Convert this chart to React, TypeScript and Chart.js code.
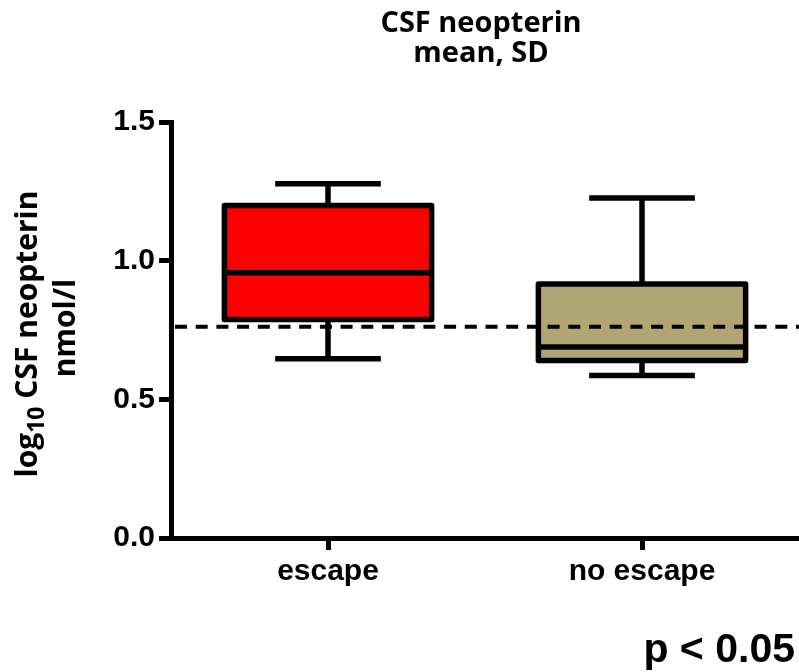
import React, { useEffect, useRef } from "react";
import { Chart, registerables } from "chart.js";

Chart.register(...registerables);

// ---- data ----
const categories = ["escape", "no escape"];
const whiskerHigh = [1.277, 1.226];
const q3 = [1.199, 0.916];
const median = [0.956, 0.689];
const q1 = [0.788, 0.64];
const whiskerLow = [0.646, 0.586];
const referenceLine = 0.762;
const yTicks = [0, 0.5, 1.0, 1.5];
const boxColors = ["#ff0000", "#b2a574"];
const titleLines = ["CSF neopterin", "mean, SD"];
const yTitleMain = "log";
const yTitleSub = "10";
const yTitleRest = " CSF neopterin";
const yTitleLine2 = "nmol/l";
const pValueText = "p < 0.05";

const ARIAL = "'Liberation Sans', Arial, sans-serif";
const CALIBRI = "'Open Sans', 'Noto Sans', sans-serif";

const boxPlotPlugin = {
  id: "boxPlotPlugin",
  afterDatasetsDraw(chart: any) {
    const ctx = chart.ctx;
    const y = chart.scales.y;
    const meta = chart.getDatasetMeta(0);
    const area = chart.chartArea;
    ctx.save();
    ctx.strokeStyle = "#000";
    ctx.lineWidth = 5.5;
    ctx.lineCap = "butt";
    meta.data.forEach((bar: any, i: number) => {
      const { x, width } = bar.getProps(["x", "width"], true);
      const half = width / 2;
      const capHalf = half * 0.51;
      const yHi = y.getPixelForValue(whiskerHigh[i]);
      const yQ3 = y.getPixelForValue(q3[i]);
      const yMed = y.getPixelForValue(median[i]);
      const yQ1 = y.getPixelForValue(q1[i]);
      const yLo = y.getPixelForValue(whiskerLow[i]);
      ctx.beginPath();
      ctx.moveTo(x, yQ3);
      ctx.lineTo(x, yHi);
      ctx.moveTo(x - capHalf, yHi);
      ctx.lineTo(x + capHalf, yHi);
      ctx.moveTo(x, yQ1);
      ctx.lineTo(x, yLo);
      ctx.moveTo(x - capHalf, yLo);
      ctx.lineTo(x + capHalf, yLo);
      ctx.moveTo(x - half, yMed);
      ctx.lineTo(x + half, yMed);
      ctx.stroke();
      ctx.lineJoin = "round";
      ctx.strokeRect(x - half, yQ3, width, yQ1 - yQ3);
    });
    // dashed reference line
    const yRef = y.getPixelForValue(referenceLine);
    ctx.beginPath();
    ctx.setLineDash([12, 8.7]);
    ctx.lineWidth = 4;
    ctx.moveTo(area.left + 4, yRef);
    ctx.lineTo(area.right, yRef);
    ctx.stroke();
    ctx.restore();
  },
  afterDraw(chart: any) {
    const ctx = chart.ctx;
    const area = chart.chartArea;
    ctx.save();
    ctx.fillStyle = "#000";
    // title
    ctx.font = `bold 29px ${CALIBRI}`;
    ctx.textAlign = "center";
    ctx.textBaseline = "alphabetic";
    ctx.fillText(titleLines[0], 481, 32);
    ctx.fillText(titleLines[1], 481, 62);

    // y-axis title (rotated)
    const mainFont = `bold 30px ${CALIBRI}`;
    const subFont = `bold 23px ${CALIBRI}`;
    ctx.font = mainFont;
    const wMain = ctx.measureText(yTitleMain).width;
    const wRest = ctx.measureText(yTitleRest).width;
    ctx.font = subFont;
    const wSub = ctx.measureText(yTitleSub).width;
    const total = wMain + wSub + wRest;
    const cy = (area.top + area.bottom) / 2;
    ctx.save();
    ctx.translate(37, cy + 4);
    ctx.rotate(-Math.PI / 2);
    ctx.textAlign = "left";
    let px = -total / 2;
    ctx.font = mainFont;
    ctx.fillText(yTitleMain, px, 0);
    px += wMain;
    ctx.font = subFont;
    ctx.fillText(yTitleSub, px, 7);
    px += wSub;
    ctx.font = mainFont;
    ctx.fillText(yTitleRest, px, 0);
    ctx.restore();

    ctx.save();
    ctx.translate(75, cy - 2);
    ctx.rotate(-Math.PI / 2);
    ctx.textAlign = "center";
    ctx.font = mainFont;
    ctx.fillText(yTitleLine2, 0, 0);
    ctx.restore();

    // p value
    ctx.font = `bold 41px ${ARIAL}`;
    ctx.textAlign = "right";
    ctx.fillText(pValueText, 795, 662);
    ctx.restore();
  },
};

export default function App() {
  const ref = useRef<HTMLCanvasElement | null>(null);
  useEffect(() => {
    document.body.style.margin = "0";
    const canvas = ref.current;
    if (!canvas) return;
    const chart = new Chart(canvas, {
      type: "bar",
      data: {
        labels: categories,
        datasets: [
          {
            data: categories.map((_, i) => [q1[i], q3[i]]) as any,
            backgroundColor: boxColors,
            borderWidth: 0,
            barPercentage: 1,
            categoryPercentage: 0.66,
          },
        ],
      },
      options: {
        animation: false,
        responsive: false,
        devicePixelRatio: 1,
        layout: { padding: { top: 122, left: 0, right: 0, bottom: 0 } },
        plugins: {
          legend: { display: false },
          title: { display: false },
          tooltip: { enabled: false },
        },
        scales: {
          x: {
            type: "category",
            grid: {
              offset: false,
              drawOnChartArea: false,
              color: "#000",
              lineWidth: 5,
              tickLength: 12,
            },
            border: { display: true, color: "#000", width: 5 },
            ticks: {
              color: "#000",
              font: { family: ARIAL, size: 30, weight: "bold" },
              padding: 4,
              maxRotation: 0,
            },
            afterFit: (s: any) => {
              s.height = 134;
            },
          },
          y: {
            type: "linear",
            min: 0,
            max: 1.5,
            afterBuildTicks: (s: any) => {
              s.ticks = yTicks.map((v) => ({ value: v }));
            },
            grid: {
              drawOnChartArea: false,
              color: "#000",
              lineWidth: 5,
              tickLength: 12,
            },
            border: { display: true, color: "#000", width: 5 },
            ticks: {
              color: "#000",
              font: { family: ARIAL, size: 30, weight: "bold" },
              padding: 4,
              callback: (v: any) => Number(v).toFixed(1),
            },
            afterFit: (s: any) => {
              s.width = 171;
            },
          },
        },
      },
      plugins: [boxPlotPlugin],
    });
    return () => chart.destroy();
  }, []);
  return (
    <div style={{ width: 799, height: 672, position: "relative" }}>
      <canvas ref={ref} width={799} height={672} style={{ display: "block" }} />
    </div>
  );
}
